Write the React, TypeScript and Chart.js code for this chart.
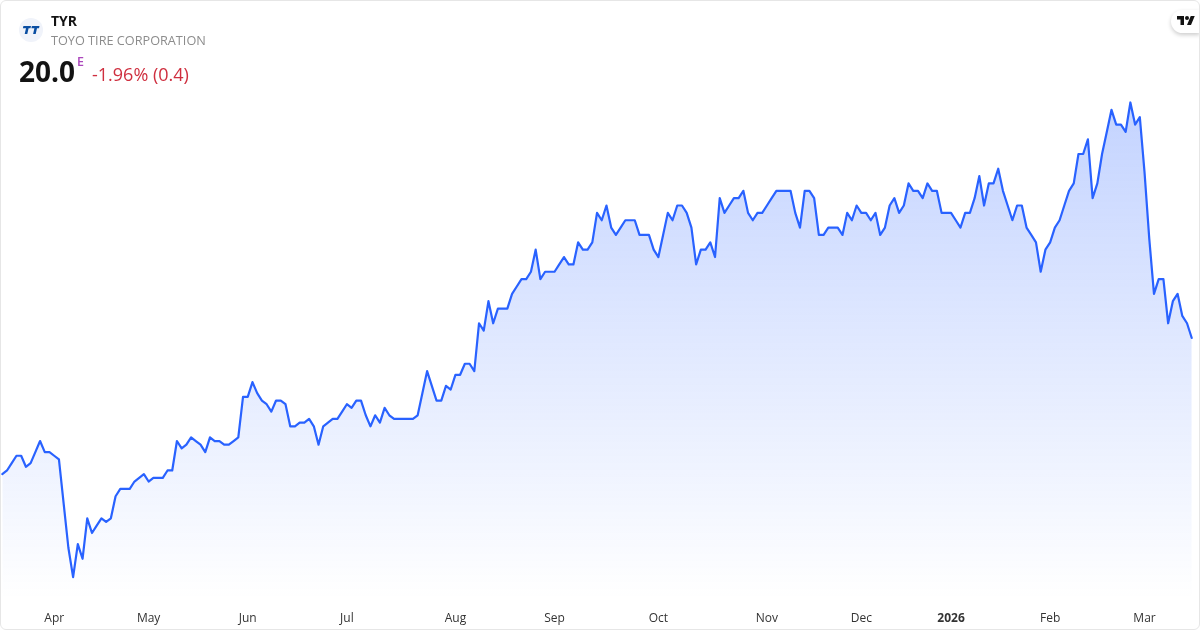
import React, { useEffect, useRef } from "react";
import { Chart, registerables } from "chart.js";

Chart.register(...registerables);

const symbol = "TYR";
const companyName = "TOYO TIRE CORPORATION";
const lastPrice = "20.0";
const changeText = "-1.96% (0.4)";

const closes: number[] = [
  16.3, 16.4, 16.6, 16.8, 16.8, 16.5, 16.6, 16.9, 17.2, 16.9, 16.9, 16.8, 16.7, 15.5, 14.3, 13.5, 14.4, 14.0, 15.1, 14.7,
  14.9, 15.1, 15.0, 15.1, 15.7, 15.9, 15.9, 15.9, 16.1, 16.2, 16.3, 16.1, 16.2, 16.2, 16.2, 16.4, 16.4, 17.2, 17.0, 17.1,
  17.3, 17.2, 17.1, 16.9, 17.3, 17.2, 17.2, 17.1, 17.1, 17.2, 17.3, 18.4, 18.4, 18.8, 18.5, 18.3, 18.2, 18.0, 18.3, 18.3,
  18.2, 17.6, 17.6, 17.7, 17.7, 17.8, 17.6, 17.1, 17.6, 17.7, 17.8, 17.8, 18.0, 18.2, 18.1, 18.3, 18.3, 17.9, 17.6, 17.9,
  17.7, 18.1, 17.9, 17.8, 17.8, 17.8, 17.8, 17.8, 17.9, 18.5, 19.1, 18.7, 18.3, 18.3, 18.7, 18.6, 19.0, 19.0, 19.3, 19.3,
  19.1, 20.4, 20.2, 21.0, 20.4, 20.8, 20.8, 20.8, 21.2, 21.4, 21.6, 21.6, 21.8, 22.4, 21.6, 21.8, 21.8, 21.8, 22.0, 22.2,
  22.0, 22.0, 22.6, 22.4, 22.4, 22.6, 23.4, 23.2, 23.6, 23.0, 22.8, 23.0, 23.2, 23.2, 23.2, 22.8, 22.8, 22.8, 22.4, 22.2,
  22.8, 23.4, 23.2, 23.6, 23.6, 23.4, 23.0, 22.0, 22.4, 22.4, 22.6, 22.2, 23.8, 23.4, 23.6, 23.8, 23.8, 24.0, 23.4, 23.2,
  23.4, 23.4, 23.6, 23.8, 24.0, 24.0, 24.0, 24.0, 23.4, 23.0, 24.0, 24.0, 23.8, 22.8, 22.8, 23.0, 23.0, 23.0, 22.8, 23.4,
  23.2, 23.6, 23.4, 23.4, 23.2, 23.4, 22.8, 23.0, 23.6, 23.8, 23.4, 23.6, 24.2, 24.0, 24.0, 23.8, 24.2, 24.0, 24.0, 23.4,
  23.4, 23.4, 23.2, 23.0, 23.4, 23.4, 23.8, 24.4, 23.6, 24.2, 24.2, 24.6, 24.0, 23.6, 23.2, 23.6, 23.6, 23.0, 22.8, 22.6,
  21.8, 22.4, 22.6, 23.0, 23.2, 23.6, 24.0, 24.2, 25.0, 25.0, 25.4, 23.8, 24.2, 25.0, 25.6, 26.2, 25.8, 25.8, 25.6, 26.4,
  25.8, 26.0, 24.5, 22.7, 21.2, 21.6, 21.6, 20.4, 21.0, 21.2, 20.6, 20.4, 20.0,
];

const monthLabels: string[] = ["Apr", "May", "Jun", "Jul", "Aug", "Sep", "Oct", "Nov", "Dec", "2026", "Feb", "Mar"];
const monthStarts: number[] = [11, 31, 52, 73, 96, 117, 139, 162, 182, 201, 222, 242];

export default function App() {
  const canvasRef = useRef<HTMLCanvasElement | null>(null);

  useEffect(() => {
    if (!canvasRef.current) return;
    const chart = new Chart(canvasRef.current, {
      type: "line",
      data: {
        datasets: [
          {
            data: closes.map((y, x) => ({ x, y })),
            borderColor: "#2962ff",
            borderWidth: 2.2,
            pointRadius: 0,
            tension: 0,
            fill: "start",
            borderJoinStyle: "round",
            borderCapStyle: "round",
            backgroundColor: (ctx: any) => {
              const g = ctx.chart.ctx.createLinearGradient(0, 100, 0, 600);
              g.addColorStop(0, "rgba(41,98,255,0.28)");
              g.addColorStop(1, "rgba(41,98,255,0)");
              return g;
            },
          },
        ],
      },
      options: {
        responsive: false,
        animation: false,
        layout: { padding: 0 },
        plugins: { legend: { display: false }, tooltip: { enabled: false } },
        scales: {
          x: {
            type: "linear",
            min: -0.487,
            max: 253.75,
            grid: { display: false, drawTicks: false },
            border: { display: false },
            afterFit: (scale: any) => {
              scale.height = 30;
            },
            afterBuildTicks: (scale: any) => {
              scale.ticks = monthStarts.map((value) => ({ value }));
            },
            ticks: {
              autoSkip: false,
              maxRotation: 0,
              padding: 11,
              color: "#333333",
              font: (ctx: any) => ({
                family: "'Open Sans'",
                size: 12,
                weight: monthLabels[ctx.index] === "2026" ? "bold" : "normal",
              }),
              callback: (_v: any, i: number) => monthLabels[i],
            },
          },
          y: {
            display: false,
            min: 12.88,
            max: 29.185,
          },
        },
      },
    });
    return () => chart.destroy();
  }, []);

  const font = "'Open Sans', sans-serif";
  return (
    <div style={{ position: "absolute", left: 0, top: 0, width: 1200, height: 630, background: "#fff", overflow: "hidden", fontFamily: font }}>
      <canvas ref={canvasRef} width={1200} height={630} style={{ position: "absolute", left: 0, top: 0, display: "block" }} />
      <div style={{ position: "absolute", left: 19, top: 18, width: 24, height: 24, borderRadius: 12, background: "#f0f3fa" }}>
        <svg width={24} height={24} viewBox="0 0 24 24" style={{ display: "block" }}>
          <path d="M4.4 8h7.6l-.5 2.3H9.6L8.3 16H5.7L7 10.3H3.9zM12.9 8h7.6l-.5 2.3h-2l-1.3 5.7h-2.6l1.3-5.7h-3z" fill="#0a4ea2" />
        </svg>
      </div>
      <div style={{ position: "absolute", left: 51, top: 11, fontSize: 14, lineHeight: "20px", fontWeight: 700, color: "#131313" }}>{symbol}</div>
      <div style={{ position: "absolute", left: 51, top: 30, fontSize: 12.7, lineHeight: "20px", color: "#8c8c8c", whiteSpace: "nowrap" }}>{companyName}</div>
      <div style={{ position: "absolute", left: 19, top: 52, fontSize: 28, lineHeight: "38px", fontWeight: 700, color: "#131313" }}>{lastPrice}</div>
      <div style={{ position: "absolute", left: 77, top: 54, fontSize: 12.5, lineHeight: "15px", fontWeight: 600, color: "#ab47bc" }}>E</div>
      <div style={{ position: "absolute", left: 92, top: 62, fontSize: 18, lineHeight: "25px", color: "#cf2f3f", whiteSpace: "nowrap" }}>{changeText}</div>
      <div style={{ position: "absolute", left: 1171, top: 10, width: 29, height: 23, background: "#fff", borderRadius: "12px 0 0 12px", boxShadow: "0 2px 4px rgba(0,0,0,0.2)" }}>
        <svg width={18} height={14} viewBox="0 0 36 28" style={{ position: "absolute", left: 6, top: 4 }}>
          <path d="M14 22H7V11H0V4h14v18zM28 22h-8l7.5-18h8L28 22z" fill="#131313" />
          <circle cx={20} cy={8} r={4} fill="#131313" />
        </svg>
      </div>
      <div style={{ position: "absolute", left: 0, top: 0, width: 1200, height: 630, boxSizing: "border-box", border: "1px solid #e6e6e6", borderRadius: 6, pointerEvents: "none" }} />
    </div>
  );
}
